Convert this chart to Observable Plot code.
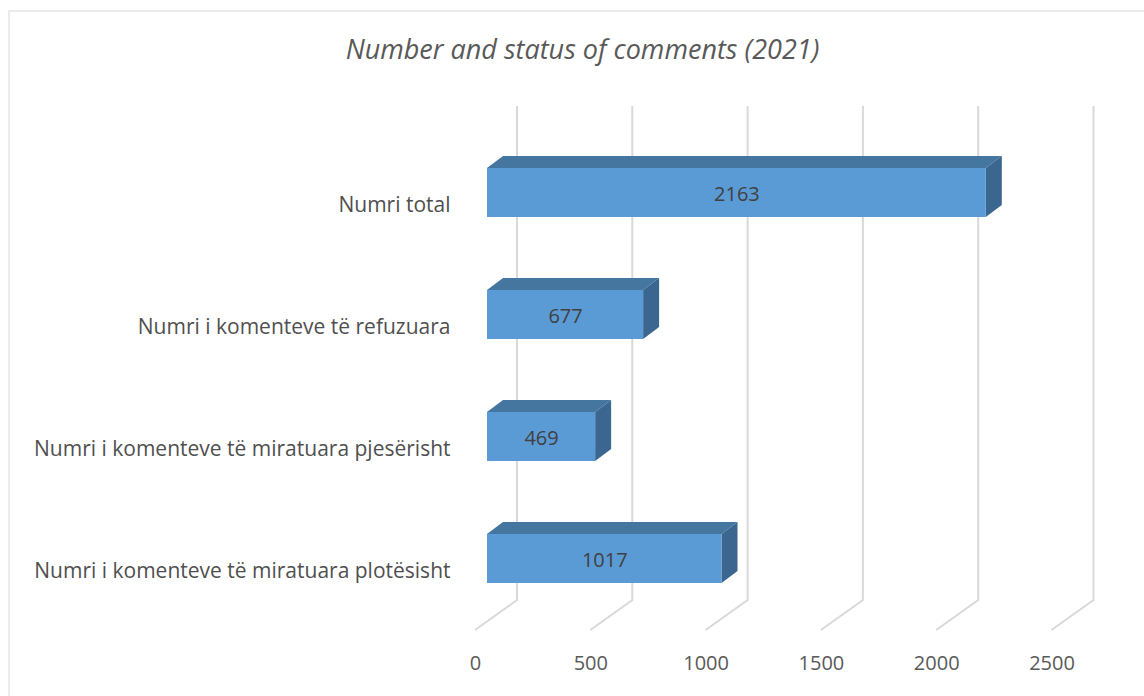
<!DOCTYPE html>
<html><head><meta charset="utf-8">
<script src="https://cdn.jsdelivr.net/npm/d3@7"></script>
<script src="https://cdn.jsdelivr.net/npm/@observablehq/plot@0.6"></script>
<style>body{margin:0;background:#fff} #chart{width:1144px;height:696px;overflow:hidden}</style>
</head><body><div id="chart"></div>
<script>
const title = "Number and status of comments (2021)";
const categories = [
  "Numri total",
  "Numri i komenteve të refuzuara",
  "Numri i komenteve të miratuara pjesërisht",
  "Numri i komenteve të miratuara plotësisht"
];
const values = [2163, 677, 469, 1017];
const xTicks = [0, 500, 1000, 1500, 2000, 2500];

const data = categories.map((c, i) => ({category: c, value: values[i]}));
const DX = 16, DY = 12;
const colors = {front: "#5B9BD5", top: "#45769F", side: "#3A6690", grid: "#D9D9D9", text: "#404040", label: "#4F4F4F", tick: "#595959"};
const FONT = "'Open Sans', Lato, sans-serif";

function gridRender(index, scales) {
  const g = d3.create("svg:g");
  for (const i of index) {
    const x = scales.x(xTicks[i]);
    g.append("path")
      .attr("d", `M${x + 30},106V600L${x - 12},630`)
      .attr("fill", "none").attr("stroke", colors.grid).attr("stroke-width", 2);
  }
  return g.node();
}

function facesRender(index, scales) {
  const g = d3.create("svg:g");
  const bw = scales.y.bandwidth();
  for (const i of index) {
    const x0 = scales.x(0), x1 = scales.x(data[i].value);
    const y0 = scales.y(data[i].category), y1 = y0 + bw;
    g.append("path")
      .attr("d", `M${x0},${y0}L${x0 + DX},${y0 - DY}H${x1 + DX}L${x1},${y0}Z`)
      .attr("fill", colors.top);
    g.append("path")
      .attr("d", `M${x1},${y0}L${x1 + DX},${y0 - DY}V${y1 - DY}L${x1},${y1}Z`)
      .attr("fill", colors.side);
  }
  return g.node();
}

const chart = Plot.plot({
  width: 1144,
  height: 696,
  margin: 0,
  style: {fontFamily: FONT, background: "#fff"},
  x: {domain: [0, 2500], range: [487, 1063.5], axis: null},
  y: {type: "band", domain: categories, range: [93.4, 657.8], padding: 0.6, axis: null},
  marks: [
    Plot.frame({stroke: "#D9D9D9", insetLeft: 8.5, insetTop: 10.5, insetRight: -5, insetBottom: -5}),
    Plot.ruleX(xTicks, {x: d => d, render: gridRender}),
    Plot.barX(data, {x: "value", y: "category", render: facesRender}),
    Plot.barX(data, {x: "value", y: "category", fill: colors.front}),
    Plot.text(data, {x: d => d.value / 2, y: "category", text: d => String(d.value), fill: colors.text, fontSize: 20, dy: 2}),
    Plot.text(data, {y: "category", text: "category", frameAnchor: "left", textAnchor: "end", lineAnchor: "middle", dx: 450, dy: 12, fill: colors.label, fontSize: 21}),
    Plot.text(xTicks, {x: d => d, text: d => String(d), frameAnchor: "top", lineAnchor: "middle", dy: 663, dx: -12, fill: colors.tick, fontSize: 20}),
    Plot.text([title], {frameAnchor: "top", lineAnchor: "middle", dx: 10, dy: 50, text: d => d, fill: colors.tick, fontSize: 27, fontStyle: "italic"})
  ]
});
document.getElementById("chart").append(chart);
</script>
</body></html>
